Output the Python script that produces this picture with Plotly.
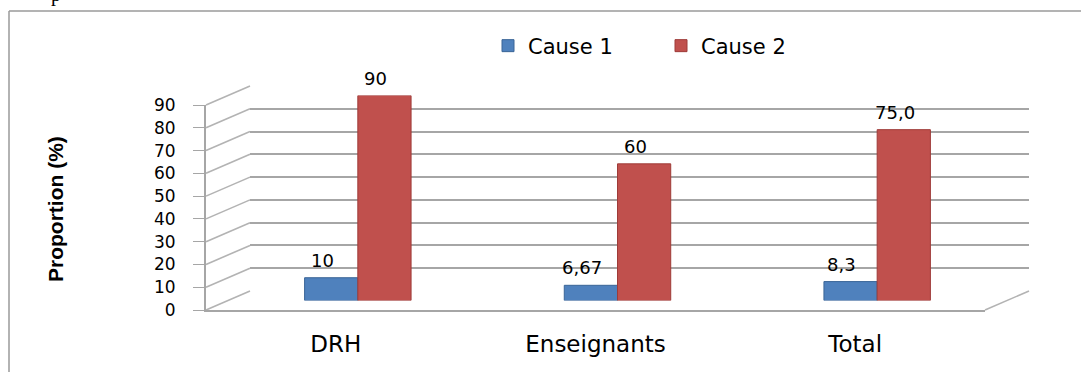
import plotly.graph_objects as go

# ---------------- data ----------------
categories = ["DRH", "Enseignants", "Total"]
series_names = ["Cause 1", "Cause 2"]
cause1 = [10, 6.67, 8.3]
cause2 = [90, 60, 75.0]
cause1_labels = ["10", "6,67", "8,3"]
cause2_labels = ["90", "60", "75,0"]
y_ticks = list(range(0, 100, 10))
y_title = "Proportion (%)"

# ---------------- styling / geometry ----------------
W, H = 1081, 372
FL, FR, FB, FT = 206, 985, 310, 105   # front box of the 3D wall (px)
DX, DY = 44, 19                        # depth offset (px)
YMAX = 90
BLUE, RED = "#4F81BD", "#C0504D"
BLUE_D, RED_D = "#3A6597", "#9E3B38"
GRID = "#a6a6a6"
FONT = "DejaVu Sans"
BARGAP = 0.59


def fx(p):
    return p / W


def fy(p):
    return 1 - p / H


front_x = [fx(FL), fx(FR)]
front_y = [fy(FB), fy(FT)]
back_x = [fx(FL + DX), fx(FR + DX)]
back_y = [fy(FB - DY), fy(FT - DY)]
mid_x = [fx(FL + DX / 2), fx(FR + DX / 2)]
mid_y = [fy(FB - DY / 2), fy(FT - DY / 2)]


def dom_val(dom, v):
    return dom[0] + (dom[1] - dom[0]) * v / YMAX


fig = go.Figure()

# back wall (gridlines only)
fig.add_trace(go.Scatter(x=[], y=[], xaxis="x", yaxis="y", showlegend=False, hoverinfo="skip"))
# front axes (tick labels)
fig.add_trace(go.Scatter(x=[], y=[], xaxis="x2", yaxis="y2", showlegend=False, hoverinfo="skip"))
# bars at mid depth
fig.add_trace(go.Bar(name=series_names[0], x=categories, y=cause1, xaxis="x3", yaxis="y3",
                     marker=dict(color=BLUE, line=dict(color=BLUE_D, width=1))))
fig.add_trace(go.Bar(name=series_names[1], x=categories, y=cause2, xaxis="x3", yaxis="y3",
                     marker=dict(color=RED, line=dict(color=RED_D, width=1))))

# ---------------- shapes: 3D frame ----------------
shapes = []
for v in y_ticks:
    shapes.append(dict(type="line", xref="paper", yref="paper",
                       x0=front_x[0], y0=dom_val(front_y, v),
                       x1=back_x[0], y1=dom_val(back_y, v),
                       line=dict(color="#b3b3b3", width=1.6), layer="below"))
# floor right edge
shapes.append(dict(type="line", xref="paper", yref="paper",
                   x0=front_x[1], y0=front_y[0], x1=back_x[1], y1=back_y[0],
                   line=dict(color="#b3b3b3", width=1.6), layer="below"))
# outer frame (left and top)
shapes.append(dict(type="line", xref="paper", yref="paper",
                   x0=fx(9), y0=fy(11), x1=fx(9), y1=0,
                   line=dict(color="#9a9a9a", width=1.5)))
shapes.append(dict(type="line", xref="paper", yref="paper",
                   x0=fx(9), y0=fy(11), x1=1, y1=fy(11),
                   line=dict(color="#9a9a9a", width=1.5)))

# ---------------- annotations ----------------
n = len(categories)
cat_px = (FR - FL) / n
bar_px = cat_px * (1 - BARGAP) / 2
annotations = []
for labels, vals, sign in [(cause1_labels, cause1, -1), (cause2_labels, cause2, 1)]:
    for c, v, t in zip(categories, vals, labels):
        annotations.append(dict(x=c, y=v, xref="x3", yref="y3", text=t, showarrow=False,
                                xanchor="center", yanchor="bottom",
                                xshift=sign * bar_px / 2 - 9, yshift=5,
                                font=dict(family=FONT, size=18, color="black")))
annotations.append(dict(x=fx(56), y=fy(209), xref="paper", yref="paper", text=y_title,
                        textangle=-90, showarrow=False, xanchor="center", yanchor="middle",
                        font=dict(family="Liberation Sans, Arial",
                                  size=21, color="black", weight="bold")))
annotations.append(dict(x=fx(56), y=1 + 6 / H, xref="paper", yref="paper", text="p",
                        showarrow=False, xanchor="center", yanchor="middle",
                        font=dict(family="Liberation Serif", size=20, color="black")))

fig.update_layout(
    width=W, height=H,
    margin=dict(l=0, r=0, t=0, b=0, autoexpand=False),
    paper_bgcolor="white", plot_bgcolor="rgba(0,0,0,0)",
    barmode="group", bargap=BARGAP, bargroupgap=0,
    showlegend=True,
    legend=dict(orientation="h", x=fx(488), y=fy(46), xanchor="left", yanchor="middle",
                font=dict(family=FONT, size=21, color="black"),
                entrywidth=128, entrywidthmode="pixels", bgcolor="rgba(0,0,0,0)"),
    shapes=shapes,
    annotations=annotations,
    xaxis=dict(domain=back_x, anchor="y", range=[0, 1], visible=False),
    yaxis=dict(domain=back_y, anchor="x", range=[0, YMAX], tickvals=y_ticks,
               showgrid=True, gridcolor=GRID, gridwidth=2, zeroline=False,
               showline=False, showticklabels=False, ticks=""),
    xaxis2=dict(domain=front_x, anchor="y2", range=[-0.5, n - 0.5],
                tickvals=list(range(n)), ticktext=categories, automargin=False,
                showline=True, linecolor=GRID, linewidth=2, ticks="",
                showgrid=False, zeroline=False, ticklabelstandoff=12,
                tickfont=dict(family=FONT, size=23, color="black")),
    yaxis2=dict(domain=front_y, anchor="x2", range=[0, YMAX], tickvals=y_ticks,
                showline=True, linecolor=GRID, linewidth=2, ticks="outside", automargin=False,
                ticklen=11, tickcolor=GRID, tickwidth=1, showgrid=False, zeroline=False,
                ticklabelstandoff=14,
                tickfont=dict(family=FONT, size=17, color="black")),
    xaxis3=dict(domain=mid_x, anchor="y3", type="category", range=[-0.5, n - 0.5],
                visible=False),
    yaxis3=dict(domain=mid_y, anchor="x3", range=[0, YMAX], visible=False),
)

fig.write_html("out.html")
